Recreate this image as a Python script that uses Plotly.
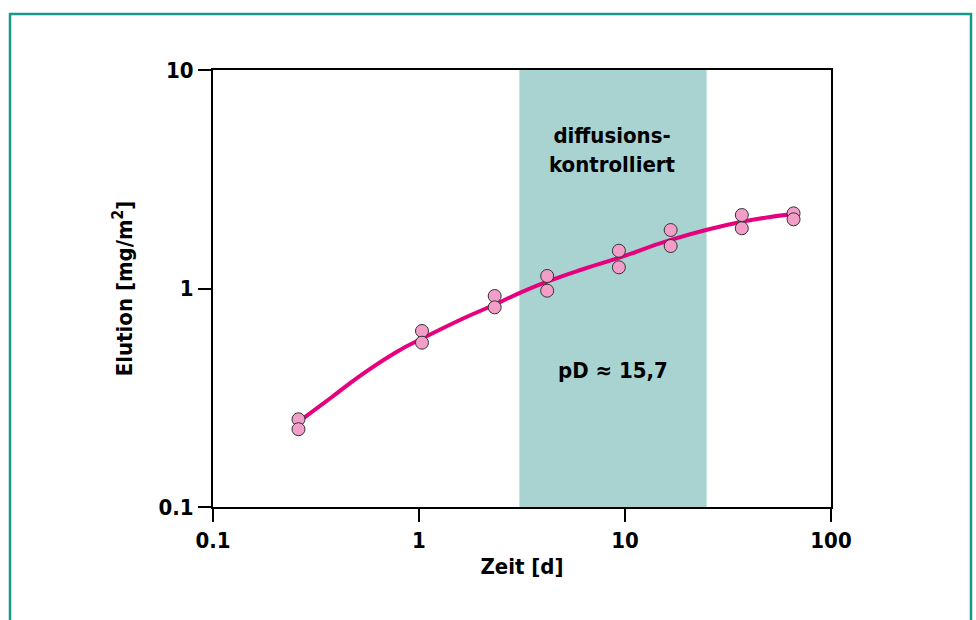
import math
import plotly.graph_objects as go

# Measured elution (two replicates per sampling time)
zeit_d = [0.26, 1.034, 2.33, 4.19, 9.34, 16.66, 36.9, 65.8]
elution_a = [0.252, 0.639, 0.924, 1.141, 1.489, 1.852, 2.169, 2.208]
elution_b = [0.227, 0.565, 0.820, 0.977, 1.250, 1.565, 1.886, 2.073]

# Fitted trend curve
fit_zeit = [0.26, 0.371, 0.538, 0.782, 1.034, 1.647, 2.305, 3.108, 4.19, 6.08, 9.31, 16.7, 36.9, 66.0]
fit_elution = [0.245, 0.3145, 0.409, 0.514, 0.59, 0.731, 0.840, 0.957, 1.074, 1.215, 1.38, 1.67, 2.02, 2.19]

# Diffusion-controlled time window
diff_start, diff_end = 3.07, 24.9

x_ticks = [0.1, 1, 10, 100]
x_ticktext = ["0.1", "1", "10", "100"]
y_ticks = [0.1, 1, 10]
y_ticktext = ["0.1", "1", "10"]

FONT = "DejaVu Sans Condensed, Liberation Sans Narrow, sans-serif"
TEAL = "#17998a"
SHADE = "#a8d3d1"
LINE = "#e6007e"
MARKER = "#f29ec8"

fig = go.Figure()

fig.add_trace(go.Scatter(
    x=fit_zeit, y=fit_elution, mode="lines",
    line=dict(color=LINE, width=4, shape="spline", smoothing=1.3),
    hoverinfo="skip", showlegend=False,
))

for ys in (elution_a, elution_b):
    fig.add_trace(go.Scatter(
        x=zeit_d, y=ys, mode="markers",
        marker=dict(size=13, color=MARKER, line=dict(color="#333333", width=1)),
        showlegend=False,
    ))

# Shaded window behind the data
fig.add_shape(type="rect", xref="x", yref="paper",
              x0=diff_start, x1=diff_end, y0=0, y1=1,
              fillcolor=SHADE, line=dict(width=0), layer="below")

# Outer frame
fig.add_shape(type="rect", xref="paper", yref="paper",
              x0=(10 - 213) / 618, x1=(971 - 213) / 618,
              y0=(507 - 640) / 437, y1=(507 - 14) / 437,
              line=dict(color=TEAL, width=2.5), fillcolor="rgba(0,0,0,0)")

bold = dict(family=FONT, size=22, color="black", weight="bold")
note = dict(family=FONT, size=22, color="black", weight="bold")

# annotation x on a log axis is given in log10 units
mid_log = (math.log10(diff_start) + math.log10(diff_end)) / 2
fig.add_annotation(x=mid_log, y=0.818, xref="x", yref="paper",
                   xanchor="center", yanchor="middle",
                   text="diffusions-<br>kontrolliert", showarrow=False,
                   font=note, align="center")
fig.add_annotation(x=mid_log, y=0.313, xref="x", yref="paper",
                   xanchor="center", yanchor="middle",
                   text="pD ≈ 15,7", showarrow=False, font=note)

axis_common = dict(
    type="log", showgrid=False, zeroline=False,
    showline=True, linecolor="black", linewidth=2, mirror=True,
    ticks="outside", ticklen=13, tickwidth=2, tickcolor="black",
    tickfont=bold,
)

fig.update_xaxes(range=[-1, 2], tickvals=x_ticks, ticktext=x_ticktext,
                 title=dict(text="Zeit [d]", font=bold, standoff=6), **axis_common)
fig.update_yaxes(range=[-1, 1], tickvals=y_ticks, ticktext=y_ticktext,
                 title=dict(text="Elution [mg/m<sup>2</sup>]", font=bold, standoff=20), **axis_common)

fig.update_layout(
    width=976, height=620,
    margin=dict(l=213, r=145, t=70, b=113, autoexpand=False),
    paper_bgcolor="white", plot_bgcolor="white",
    font=dict(family=FONT),
)

fig.write_html("out.html")
